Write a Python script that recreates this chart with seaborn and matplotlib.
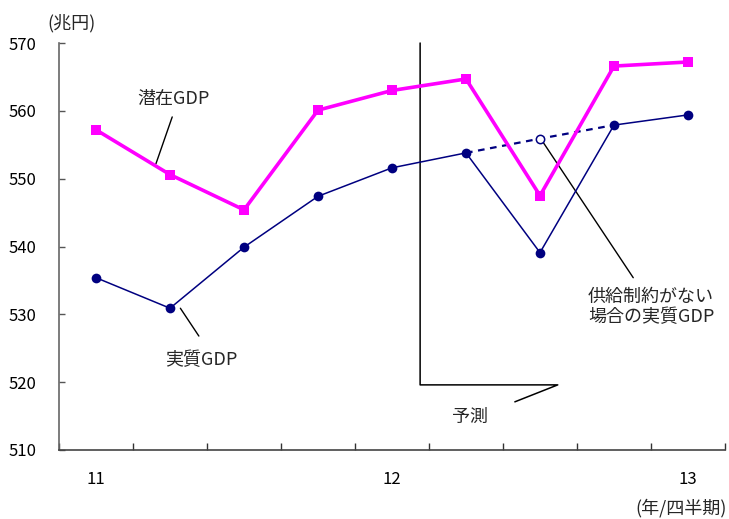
import matplotlib
matplotlib.use("Agg")
import matplotlib.pyplot as plt
import seaborn as sns
import numpy as np
import pandas as pd

# ---- data ----
quarters = ["11Q1", "11Q2", "11Q3", "11Q4", "12Q1", "12Q2", "12Q3", "12Q4", "13Q1"]
potential_gdp = [557.2, 550.6, 545.4, 560.1, 563.0, 564.7, 547.5, 566.6, 567.2]
real_gdp = [535.4, 530.9, 539.9, 547.4, 551.6, 553.8, 539.1, 557.9, 559.4]
unconstrained_q = ["12Q2", "12Q3", "12Q4"]
unconstrained_gdp = [553.8, 555.9, 557.9]
year_ticks = ["11Q1", "12Q1", "13Q1"]
year_labels = ["11", "12", "13"]
y_ticks = [510, 520, 530, 540, 550, 560, 570]

sns.set_theme(style="white")
plt.rcParams["font.family"] = ["Noto Sans CJK JP", "DejaVu Sans"]

pos = {q: i for i, q in enumerate(quarters)}
df = pd.DataFrame({"x": [pos[q] for q in quarters],
                   "potential": potential_gdp, "real": real_gdp})
du = pd.DataFrame({"x": [pos[q] for q in unconstrained_q], "y": unconstrained_gdp})

fig = plt.figure(figsize=(7.29, 5.19), dpi=100)
ax = fig.add_axes([59/729, 1-450/519, (725-59)/729, (450-43)/519])

navy = "#000080"
mag = "#FF00FF"

sns.lineplot(data=du, x="x", y="y", ax=ax, color=navy, lw=1.6,
             linestyle=(0, (3, 2.5)), zorder=2)
sns.lineplot(data=df, x="x", y="potential", ax=ax, color=mag, lw=2.6,
             marker="s", markersize=6.5, markeredgewidth=0, zorder=3)
sns.lineplot(data=df, x="x", y="real", ax=ax, color=navy, lw=1.1,
             marker="o", markersize=7, markeredgewidth=0, zorder=4)
# open circle for the middle unconstrained point
ax.plot(du["x"].iloc[1], du["y"].iloc[1], marker="o", ms=6, mfc="white",
        mec=navy, mew=1.1, ls="none", zorder=5)

ax.set_xlim(-0.5, len(quarters) - 0.5)
ax.set_ylim(510, 570)
ax.set_xlabel("")
ax.set_ylabel("")

fs_num = 12
fs_txt = 13

# x ticks: boundaries (major, unlabeled), year labels (minor)
ax.set_xticks(np.arange(-0.5, len(quarters), 1.0))
ax.set_xticklabels([])
ax.set_xticks([pos[q] for q in year_ticks], minor=True)
ax.set_xticklabels(year_labels, minor=True)
ax.tick_params(axis="x", which="major", direction="in", length=5, width=1, color="#333333", bottom=True)
ax.tick_params(axis="x", which="minor", length=0, pad=15, labelsize=fs_num, labelcolor="black")
ax.set_yticks(y_ticks)
ax.set_yticklabels([str(v) for v in y_ticks])
ax.tick_params(axis="y", direction="in", length=4, width=1, color="#555555", left=True,
               labelsize=fs_num, labelcolor="black", pad=16)

for s in ["top", "right"]:
    ax.spines[s].set_visible(False)
ax.spines["left"].set_color("#666666")
ax.spines["bottom"].set_color("#444444")
ax.spines["left"].set_linewidth(1.2)
ax.spines["bottom"].set_linewidth(1.2)

# forecast bracket
ax.plot([4.38, 4.38, 6.24, 5.66], [570, 519.6, 519.6, 517.1], color="black", lw=1.1,
        clip_on=False, zorder=1)
ax.text(5.05, 514.9, "予測", ha="center", va="center", fontsize=fs_txt)

# labels with leader lines
ax.plot([1.03, 0.81], [559.1, 552.2], color="black", lw=1)
ax.text(1.05, 561.8, "潜在GDP", ha="center", va="center", fontsize=fs_txt)
ax.plot([1.14, 1.39], [530.9, 526.8], color="black", lw=1)
ax.text(1.42, 523.3, "実質GDP", ha="center", va="center", fontsize=fs_txt)
ax.plot([6.04, 7.26], [555.4, 535.4], color="black", lw=1)
ax.text(6.65, 531.1, "供給制約がない\n場合の実質GDP", ha="left", va="center",
        fontsize=fs_txt, linespacing=1.2)

fig.text(47/729, 1-23/519, "(兆円)", ha="left", va="center", fontsize=fs_txt)
fig.text(727/729, 1-508/519, "(年/四半期)", ha="right", va="center", fontsize=fs_txt)

fig.savefig("out.png", dpi=100)
